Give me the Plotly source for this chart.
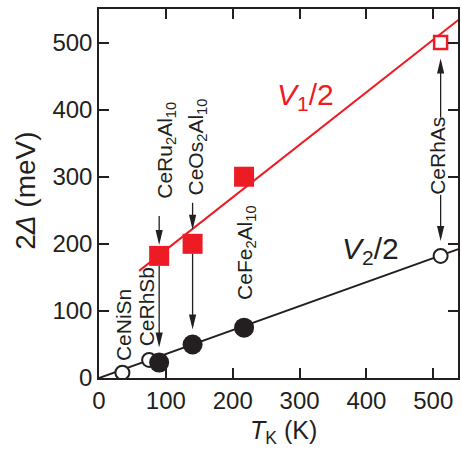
import plotly.graph_objects as go

# Kondo temperature T_K (K) and half-gap energies (meV)
heavy_names = ["CeRu<sub>2</sub>Al<sub>10</sub>", "CeOs<sub>2</sub>Al<sub>10</sub>", "CeFe<sub>2</sub>Al<sub>10</sub>"]
heavy_tk = [90, 140, 217]
heavy_v1 = [182, 200, 300]
heavy_v2 = [23, 50, 75]

light_names = ["CeNiSn", "CeRhSb", "CeRhAs"]
light_tk = [35, 75, 511]
light_v2 = [8, 27, 182]

rhas_tk = [511]
rhas_v1 = [500]

# straight guide lines for V1/2 and V2/2
v1_line_tk = [60, 540]
v1_line_e = [159.7, 535.5]
v2_line_tk = [0, 540]
v2_line_e = [0, 193]

x_ticks = [0, 100, 200, 300, 400, 500]
y_ticks = [0, 100, 200, 300, 400, 500]

X_RANGE = [0, 537]
Y_RANGE = [0, 550]
WIDTH, HEIGHT = 461, 450
MARGIN = dict(l=99, r=1, t=9, b=72)

RED = "#ED1C24"
BLK = "#231F20"
FONT = "Liberation Sans, Arial, Helvetica, sans-serif"

# pixels per meV on the y axis
PX_PER_MEV = (HEIGHT - MARGIN["t"] - MARGIN["b"]) / (Y_RANGE[1] - Y_RANGE[0])

fig = go.Figure()

fig.add_trace(go.Scatter(x=v1_line_tk, y=v1_line_e, mode="lines",
                         line=dict(color=RED, width=2), hoverinfo="skip"))
fig.add_trace(go.Scatter(x=v2_line_tk, y=v2_line_e, mode="lines",
                         line=dict(color=BLK, width=2), hoverinfo="skip"))

# open symbols
fig.add_trace(go.Scatter(x=light_tk, y=light_v2, mode="markers",
                         marker=dict(symbol="circle", size=14, color="white",
                                     line=dict(color=BLK, width=2))))
fig.add_trace(go.Scatter(x=rhas_tk, y=rhas_v1, mode="markers",
                         marker=dict(symbol="square", size=13, color="white",
                                     line=dict(color=RED, width=2.5))))
# filled symbols
fig.add_trace(go.Scatter(x=heavy_tk, y=heavy_v2, mode="markers",
                         marker=dict(symbol="circle", size=20, color=BLK, line=dict(width=0))))
fig.add_trace(go.Scatter(x=heavy_tk, y=heavy_v1, mode="markers",
                         marker=dict(symbol="square", size=20, color=RED, line=dict(width=0))))

annotations = []
shapes = []


def arrow_line(x, y, p0, p1):
    # vertical segment anchored on a data point, ends given in px (up = +)
    shapes.append(dict(type="line", xsizemode="pixel", ysizemode="pixel",
                       xanchor=x, yanchor=y, x0=0, x1=0, y0=p0, y1=p1,
                       line=dict(color=BLK, width=1.3), layer="above"))


def arrow_head(x, y, tip, down=True):
    # pixel-sized triangle anchored on a data point; tip offset in px
    L, W = 15, 3.6
    if down:
        path = f"M0,{tip} L{-W},{tip + L} L{W},{tip + L} Z"
    else:
        path = f"M0,{-tip} L{-W},{-tip - L} L{W},{-tip - L} Z"
    shapes.append(dict(type="path", xsizemode="pixel", ysizemode="pixel",
                       xanchor=x, yanchor=y, path=path,
                       fillcolor=BLK, line=dict(width=0), layer="above"))


# CeRu2Al10 / CeOs2Al10: label arrow down to V1, then V1 down to V2
upper_tail = [40, 41]
upper_tip = [11, 14]
for i in range(2):
    arrow_line(heavy_tk[i], heavy_v1[i], upper_tip[i] + 4, upper_tail[i])
    arrow_head(heavy_tk[i], heavy_v1[i], upper_tip[i], down=True)
    gap_px = (heavy_v1[i] - heavy_v2[i]) * PX_PER_MEV
    arrow_line(heavy_tk[i], heavy_v2[i], 19, gap_px - 10)
    arrow_head(heavy_tk[i], heavy_v2[i], 15, down=True)

# CeRhAs: double arrow split by its label
arrow_line(rhas_tk[0], rhas_v1[0], -20, -75)
arrow_head(rhas_tk[0], rhas_v1[0], 16, down=False)
arrow_line(light_tk[2], light_v2[2], 19, 61)
arrow_head(light_tk[2], light_v2[2], 15, down=True)

# compound labels (vertical)
label_pos = [
    (heavy_names[0], 99, 339),
    (heavy_names[1], 147, 344),
    (heavy_names[2], 219, 187),
    (light_names[2], 507, 331),
    (light_names[0], 36, 79),
    (light_names[1], 71, 106),
]
for txt, lx, ly in label_pos:
    annotations.append(dict(x=lx, y=ly, xref="x", yref="y", text=txt, showarrow=False,
                            textangle=-90, xanchor="center", yanchor="middle",
                            font=dict(family=FONT, size=21, color=BLK)))

# series labels
annotations.append(dict(x=309, y=419, xref="x", yref="y", text="<i>V</i><sub>1</sub>/2",
                        showarrow=False, font=dict(family=FONT, size=30, color=RED)))
annotations.append(dict(x=406, y=190, xref="x", yref="y", text="<i>V</i><sub>2</sub>/2",
                        showarrow=False, font=dict(family=FONT, size=30, color=BLK)))

# axis titles
annotations.append(dict(x=276, y=0, xref="x", yref="paper", yshift=-54,
                        text="<i>T</i><sub>K</sub> (K)", showarrow=False,
                        xanchor="center", yanchor="middle",
                        font=dict(family=FONT, size=25, color=BLK)))
annotations.append(dict(x=0, y=279, xref="paper", yref="y", xshift=-73,
                        text="2<i>Δ</i> (meV)", showarrow=False, textangle=-90,
                        xanchor="center", yanchor="middle",
                        font=dict(family=FONT, size=28, color=BLK)))

axis_common = dict(showline=True, linecolor=BLK, linewidth=1.5, mirror="ticks",
                   ticks="inside", ticklen=10, tickwidth=1.5, tickcolor=BLK,
                   showgrid=False, zeroline=False,
                   tickfont=dict(family=FONT, size=24, color=BLK))

fig.update_layout(
    width=WIDTH, height=HEIGHT,
    margin=MARGIN,
    paper_bgcolor="white", plot_bgcolor="white",
    showlegend=False,
    xaxis=dict(range=X_RANGE, tickvals=x_ticks, **axis_common),
    yaxis=dict(range=Y_RANGE, tickvals=y_ticks, **axis_common),
    annotations=annotations,
    shapes=shapes,
)

fig.write_html("out.html")
